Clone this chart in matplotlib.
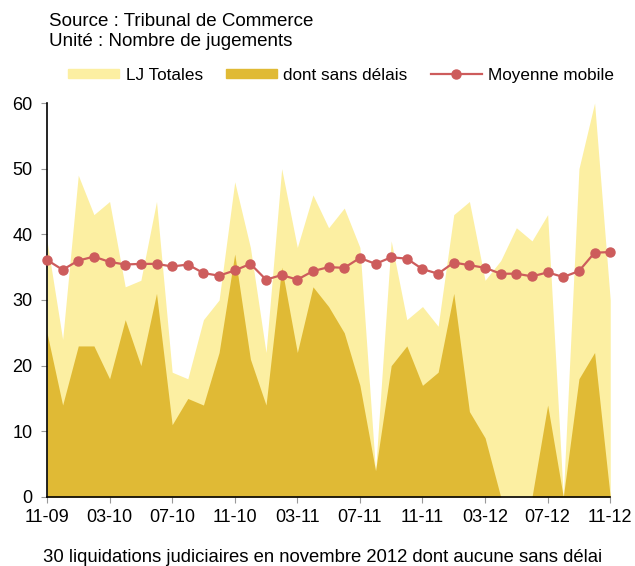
import numpy as np
import matplotlib.pyplot as plt
from matplotlib.patches import Patch
from matplotlib.lines import Line2D

plt.rcParams['font.family'] = ['Liberation Sans', 'DejaVu Sans']

# donnees mensuelles 11-09 -> 11-12
lj_totales = [39, 24, 49, 43, 45, 32, 33, 45, 19, 18, 27, 30, 48, 38, 22, 50, 38, 46, 41,
              44, 38, 4, 39, 27, 29, 26, 43, 45, 33, 36, 41, 39, 43, 0, 50, 60, 30]
sans_delais = [25, 14, 23, 23, 18, 27, 20, 31, 11, 15, 14, 22, 37, 21, 14, 35, 22, 32, 29,
               25, 17, 4, 20, 23, 17, 19, 31, 13, 9, 0, 0, 0, 14, 0, 18, 22, 0]
moyenne = [36.1, 34.6, 36.0, 36.6, 35.8, 35.4, 35.5, 35.5, 35.1, 35.4, 34.1, 33.7, 34.5,
           35.5, 33.1, 33.8, 33.1, 34.4, 35.0, 34.9, 36.4, 35.5, 36.5, 36.3, 34.7, 34.0,
           35.7, 35.3, 34.9, 34.0, 34.0, 33.6, 34.2, 33.5, 34.4, 37.2, 37.3]
tick_labels = ['11-09', '03-10', '07-10', '11-10', '03-11', '07-11', '11-11', '03-12', '07-12', '11-12']

c_light = '#FCEFA2'
c_dark = '#E0BA35'
c_red = '#CD5C5C'

x = np.arange(len(lj_totales))

fig = plt.figure(figsize=(6.35, 5.66), dpi=100)
ax = fig.add_axes([0.074, 0.122, 0.887, 0.696])

ax.fill_between(x, 0, lj_totales, color=c_light, linewidth=0)
ax.fill_between(x, 0, sans_delais, color=c_dark, linewidth=0)
ax.plot(x, moyenne, color=c_red, linewidth=1.6, marker='o', markersize=6.5, clip_on=False, zorder=5)

ax.set_xlim(0, len(x) - 1)
ax.set_ylim(0, 60)
ax.set_xticks(x[::4])
ax.set_xticklabels(tick_labels)
ax.set_yticks(range(0, 61, 10))
ax.tick_params(axis='both', labelsize=13, color='#999999', length=4.5, direction='out')
ax.tick_params(axis='x', pad=4)
ax.tick_params(axis='y', pad=6)
for s in ['top', 'right']:
    ax.spines[s].set_visible(False)
for s in ['left', 'bottom']:
    ax.spines[s].set_color('black')
    ax.spines[s].set_linewidth(1.2)

handles = [Patch(color=c_light), Patch(color=c_dark),
           Line2D([], [], color=c_red, linewidth=1.6, marker='o', markersize=6.5)]
fig.legend(handles, ['LJ Totales', 'dont sans délais', 'Moyenne mobile'],
           loc='center left', bbox_to_anchor=(68 / 635, 1 - 75 / 566), ncol=3, frameon=False,
           fontsize=12.3, handlelength=3.0, handleheight=0.47, columnspacing=1.35,
           handletextpad=0.37, borderpad=0, borderaxespad=0)

fig.text(49 / 635, 1 - 21 / 566, 'Source : Tribunal de Commerce', fontsize=13.5, va='center')
fig.text(49 / 635, 1 - 42 / 566, 'Unité : Nombre de jugements', fontsize=13.5, va='center')
fig.text(323 / 635, 1 - 557 / 566, '30 liquidations judiciaires en novembre 2012 dont aucune sans délai',
         fontsize=13.3, ha='center', va='center')

plt.savefig('out.png', dpi=100)
